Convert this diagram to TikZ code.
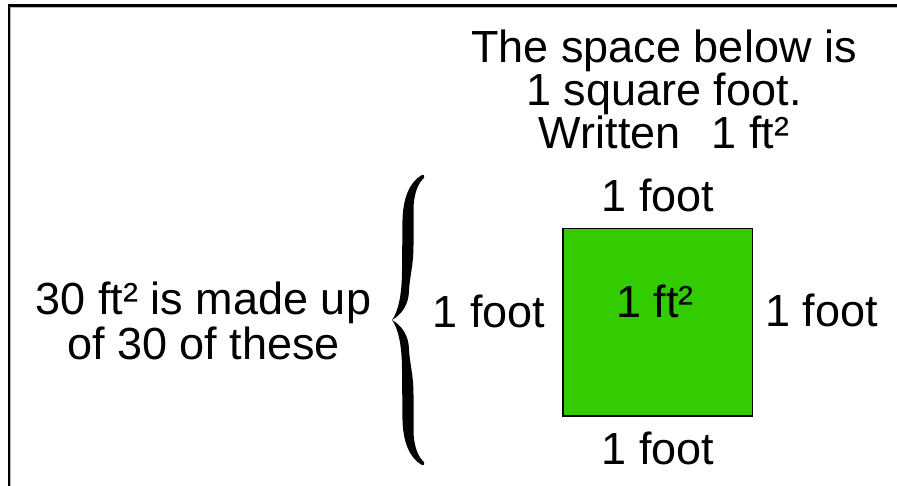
\documentclass[tikz,border=0pt]{standalone}
\usepackage{fontspec}
\setmainfont{Liberation Sans}
\definecolor{sqgreen}{RGB}{51,204,0}
\begin{document}
\begin{tikzpicture}[x=1pt,y=-1pt,
  lbl/.style={font=\fontsize{45}{45}\selectfont, inner sep=0pt, outer sep=0pt},
  bracefill/.style={fill=black}]
\useasboundingbox (0,0) rectangle (897,486);
% frame (top and left edges)
\draw[gray!55, line width=1pt] (10.9,486) -- (10.9,7.4) -- (897,7.4);
\draw[black, line width=2.2pt] (9,486) -- (9,5.5) -- (897,5.5);
% texts
\node[lbl, align=center, anchor=north, font=\fontsize{45}{43}\selectfont] (title) at (664,30)
  {The space below is\\1 square foot.\\Written\ \ \hspace{6pt}1 ft²};
\node[lbl, align=center, anchor=north, font=\fontsize{45}{45}\selectfont] (made) at (203.5,282)
  {30 ft² is made up\\of 30 of these};
% the square
\node[draw=black, fill=sqgreen, line width=1.2pt, inner sep=0pt, outer sep=0pt,
  minimum width=189.5pt, minimum height=187.5pt, anchor=north west] (sq) at (563,228.5) {};
\node[lbl, anchor=base] (area) at (655,318) {1 ft²};
\node[lbl, anchor=base] (topl) at (658,211.7) {1 foot};
\node[lbl, anchor=base] (botl) at (658,464) {1 foot};
\node[lbl, anchor=base] (lftl) at (489,327) {1 foot};
\node[lbl, anchor=base] (rgtl) at (821.7,326.7) {1 foot};
% brace
\foreach \s in {1,-1}{
\begin{scope}[shift={(392,320)}, yscale=\s]
\fill[bracefill] (0,0) .. controls (9,-5) and (17,-15) .. (17,-30)
  .. controls (18,-45) and (21.5,-55) .. (21.5,-75) -- (21.5,-112)
  .. controls (22,-128) and (27,-138) .. (32,-142)
  .. controls (33.5,-143) and (32,-146.5) .. (29,-144.5)
  .. controls (17,-137) and (11,-121) .. (10.5,-100) -- (10,-50)
  .. controls (10,-25) and (6,-8) .. (0,0) -- cycle;
\end{scope}
}
\end{tikzpicture}
\end{document}
